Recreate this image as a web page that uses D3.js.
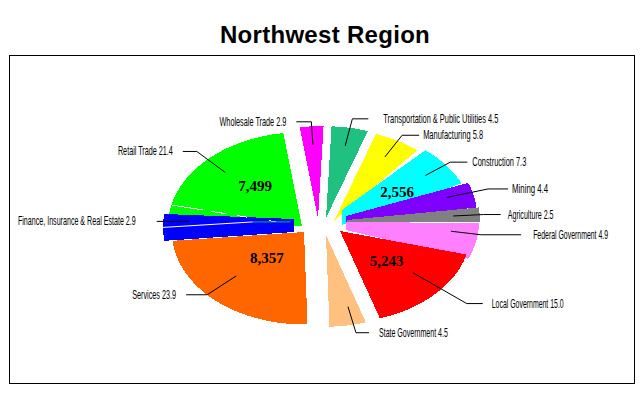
<!DOCTYPE html>
<html><head><meta charset="utf-8">
<script src="https://cdn.jsdelivr.net/npm/d3@7"></script>
<style>html,body{margin:0;padding:0;background:#fff}svg{display:block}</style>
</head><body><svg id="c" width="640" height="400"></svg>
<script>
const categories = ["Wholesale Trade","Transportation & Public Utilities","Manufacturing","Construction","Mining","Agriculture","Federal Government","Local Government","State Government","Services","Finance, Insurance & Real Estate","Retail Trade"];
const shares = [2.9,4.5,5.8,7.3,4.4,2.5,4.9,15.0,4.5,23.9,2.9,21.4];
const shareText = ["2.9","4.5","5.8","7.3","4.4","2.5","4.9","15.0","4.5","23.9","2.9","21.4"];
const amountCategories = ["Retail Trade","Construction","Local Government","Services"];
const amounts = ["7,499","2,556","5,243","8,357"];

// Layout options of the exploded pie, kept apart from the data
const colors = ["#ff00ff","#20c080","#ffff00","#00ffff","#8000ff","#808080","#ff80ff","#ff0000","#ffc080","#ff6600","#0000ff","#00ff00"];
const sliceX = [318,326,334,342,346,347,346,340,326,304,294,302];
const sliceY = [218,218,221,221,216,221,222,231,235,232,227,226];
const sliceR = [131,131,131,131,131,133,133,131,131,132,131,134];
const innerUp = [0,0,0,11,0,1,0,0,0,0,8,0];
const innerDown = [0,0,0,4,7,1,8,0,0,0,5,0];
const openStart = [0,0,0,0,-3,0,0,3.4,0,0,3.2,2.5];
const openEnd = [0,0,0,0,3,0,5,0,0,0,3.2,0];
const leaderAdj = [0,0,0,0,0,0,0,-6,-2.5,5.7,0,3];
const leaderFrac = [0.8,0.8,0.8,0.8,0.8,0.8,0.8,0.72,0.8,0.7,0.8,0.83];
const elbowFrac = [1.05,1.1,1.07,1.04,1.13,1.03,1.03,1.25,1.09,1.0,0.88,1.14];
const leaderDy = [0,0,0,-1,2,0,-3,0,0,0,-6,3];
const leaderRun = [-15,16,17,17,20,17,40,16,13,-21,-22,-14];
const labelGap = [-10,15,4,5,4,7,12,9,10,-10,-21,-10];
const labelWidth = [67,115,60,54,36,46,75,72,69,44,118,55];
const amountFrac = [0.55,0.53,0.48,0.4];
const amountAdj = [7,0,-3,3];
const drawOrder = [11,0,1,2,3,4,5,6,7,8,10,9];
const k = 0.7, startDeg = -8, rad = Math.PI/180;

const svg = d3.select("#c");
svg.append("rect").attr("x",9.5).attr("y",55.5).attr("width",625).attr("height",328)
  .attr("fill","#fff").attr("stroke","#000");
svg.append("text").attr("x",325).attr("y",43).attr("text-anchor","middle")
  .attr("font-family","'Liberation Sans',Arial,sans-serif").attr("font-weight","bold")
  .attr("font-size",24).attr("letter-spacing",0.3).text("Northwest Region");

const start = startDeg*rad;
const pie = d3.pie().sort(null).value(d=>d).startAngle(start).endAngle(start+2*Math.PI);
const arcs = pie(shares);
const mid = d => (d.startAngle+d.endAngle)/2;
const polar = (i,a,r) => [sliceX[i]+r*Math.sin(a), sliceY[i]-k*r*Math.cos(a)];
const line = d3.line();

function wedge(i){
  const a0 = arcs[i].startAngle-openStart[i]*rad, a1 = arcs[i].endAngle+openEnd[i]*rad;
  const outer = d3.range(61).map(t=>polar(i,a0+(a1-a0)*t/60,sliceR[i]));
  const up = [sliceX[i],sliceY[i]-innerUp[i]], down = [sliceX[i],sliceY[i]+innerDown[i]];
  const inner = Math.sin(mid(arcs[i]))>0 ? [down,up] : [up,down];
  return line(outer.concat(inner))+"Z";
}

svg.append("g").selectAll("path").data(drawOrder).join("path")
  .attr("d",wedge).attr("fill",i=>colors[i]).attr("shape-rendering","crispEdges");

// faint seams in Retail and Finance
const iRetail = categories.indexOf("Retail Trade"), iFin = categories.indexOf("Finance, Insurance & Real Estate");
svg.append("path").attr("d",line([polar(iRetail,arcs[iRetail].startAngle+0.14,sliceR[iRetail]),polar(iRetail,arcs[iRetail].startAngle+0.14,sliceR[iRetail]*0.1)]))
  .attr("fill","none").attr("stroke","#fff").attr("stroke-dasharray","32 8 15 11 11 22 7 19 3 40").attr("shape-rendering","crispEdges");
const seamA = polar(iFin,mid(arcs[iFin]),sliceR[iFin]), seamB = polar(iFin,arcs[iFin].endAngle+5*rad,sliceR[iFin]*0.32);
svg.append("path").attr("d",line([seamA,seamB])).attr("fill","none").attr("stroke","#fff");
svg.append("path").attr("d",line([seamB,polar(iFin,arcs[iFin].endAngle+60*rad,8)])).attr("fill","none").attr("stroke","#00c040");

// leaders and labels
const gl = svg.append("g");
categories.forEach((c,i)=>{
  const a = mid(arcs[i])+leaderAdj[i]*rad;
  const p0 = polar(i,a,sliceR[i]*leaderFrac[i]), p1 = polar(i,a,sliceR[i]*elbowFrac[i]);
  p0[1]+=leaderDy[i]; p1[1]+=leaderDy[i];
  const p2 = [p1[0]+leaderRun[i],p1[1]];
  gl.append("path").attr("d",line([p0,p1,p2])).attr("fill","none").attr("stroke","#000");
  const right = leaderRun[i]>0;
  const t = gl.append("text")
    .attr("text-anchor",right?"start":"end")
    .attr("font-family","'Liberation Sans Narrow','Liberation Sans',sans-serif").attr("font-size",12.5)
    .text(c+" "+shareText[i]);
  const sx = labelWidth[i]/t.node().getComputedTextLength();
  t.attr("transform",`translate(${p2[0]+labelGap[i]},${p2[1]+4}) scale(${sx},1)`);
});

// dollar amounts
amountCategories.forEach((c,j)=>{
  const i = categories.indexOf(c);
  const p = polar(i,mid(arcs[i])+amountAdj[j]*rad,sliceR[i]*amountFrac[j]);
  svg.append("text").attr("x",p[0]).attr("y",p[1]+5).attr("text-anchor","middle")
    .attr("font-family","'Liberation Serif',serif").attr("font-weight","bold").attr("font-size",15)
    .text(amounts[j]);
});
</script></body></html>
